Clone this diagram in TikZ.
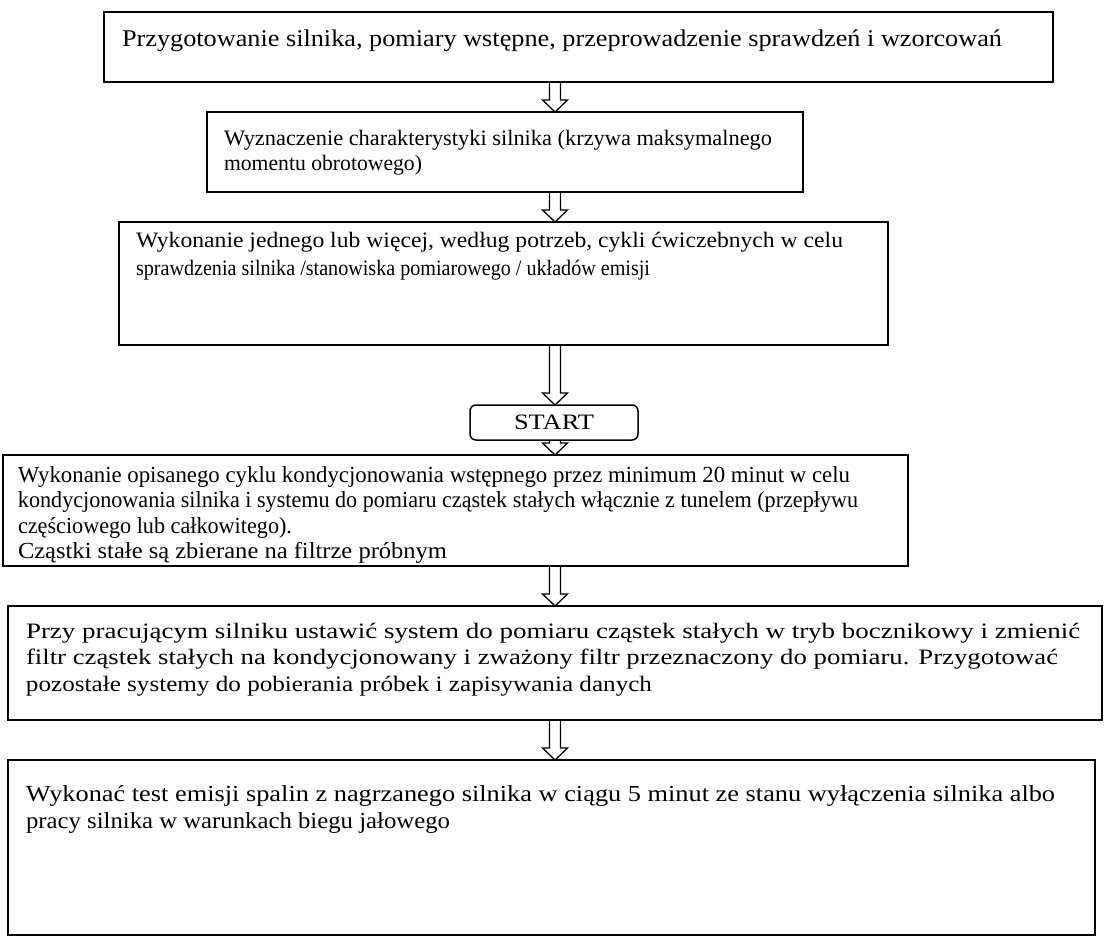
\documentclass[tikz,border=0pt]{standalone}
\usepackage{fontspec}
\setmainfont{Liberation Serif}
\usetikzlibrary{calc}
\newdimen\lnpad
\newdimen\lnskip
% #1 width, #2 height, #3 left pad, #4 first baseline, #5 line spacing, #6 lines
\newcommand\TB[6]{\vbox to #2{\hsize=#1\relax\offinterlineskip\lnpad=#3\relax\lnskip=#5\relax\kern\dimexpr#4-#5\relax #6\vfill}}
\newcommand\Ln[2]{\kern\lnskip\hbox to\hsize{\hskip\lnpad\smash{\resizebox{#1}{\height}{#2}}\hss}}
\tikzset{
  box/.style={draw, line width=1.5pt, inner sep=0pt, outer sep=0pt, anchor=north west, font=\fontsize{22pt}{26pt}\selectfont},
  bigtext/.style={font=\fontsize{24pt}{28pt}\selectfont},
  midtext/.style={font=\fontsize{23pt}{27pt}\selectfont},
  startbox/.style={draw, line width=1.5pt, rounded corners=6pt, inner sep=0pt, outer sep=0pt, minimum width=168pt, minimum height=35pt, font=\fontsize{22pt}{26pt}\selectfont},
  harrow/.style={line width=1.3pt, line join=miter, to path={let \p1=(\tikztostart), \p2=(\tikztotarget) in (\x1-5.5pt,\y1) -- (\x1-5.5pt,\y2+12pt) -- (\x1-12.5pt,\y2+12pt) -- (\x1,\y2) -- (\x1+12.5pt,\y2+12pt) -- (\x1+5.5pt,\y2+12pt) -- (\x1+5.5pt,\y1)}}
}
\begin{document}
\begin{tikzpicture}[x=1pt,y=-1pt]
\fill[white] (0,0) rectangle (1108,941);
\useasboundingbox (0,0) rectangle (1108,941);
\coordinate (ax) at (555,0);

\node[box,bigtext] (b1) at (104,12) {\TB{949pt}{70pt}{18pt}{35pt}{26pt}{%
  \Ln{880pt}{Przygotowanie silnika, pomiary wstępne, przeprowadzenie sprawdzeń i wzorcowań}}};

\node[box] (b2) at (207,112) {\TB{596pt}{80pt}{17pt}{34pt}{25pt}{%
  \Ln{548pt}{Wyznaczenie charakterystyki silnika (krzywa maksymalnego}%
  \Ln{198pt}{momentu obrotowego)}}};

\node[box] (b3) at (119,222) {\TB{769pt}{123pt}{17pt}{25pt}{28pt}{%
  \Ln{707pt}{Wykonanie jednego lub więcej, według potrzeb, cykli ćwiczebnych w celu}%
  \Ln{514pt}{sprawdzenia silnika /stanowiska pomiarowego / układów emisji}}};

\node[startbox] (st) at (554,422.5) {\resizebox{80pt}{\height}{START}};

\node[box,midtext] (b4) at (3,455) {\TB{905pt}{111pt}{15pt}{27pt}{25.5pt}{%
  \Ln{832pt}{Wykonanie opisanego cyklu kondycjonowania wstępnego przez minimum 20 minut w celu}%
  \Ln{840pt}{kondycjonowania silnika i systemu do pomiaru cząstek stałych włącznie z tunelem (przepływu}%
  \Ln{274pt}{częściowego lub całkowitego).}%
  \Ln{429pt}{Cząstki stałe są zbierane na filtrze próbnym}}};

\node[box] (b5) at (8,606) {\TB{1094pt}{114pt}{18pt}{32pt}{26.5pt}{%
  \Ln{1054pt}{Przy pracującym silniku ustawić system do pomiaru cząstek stałych w tryb bocznikowy i zmienić}%
  \Ln{1032pt}{filtr cząstek stałych na kondycjonowany i zważony filtr przeznaczony do pomiaru. Przygotować}%
  \Ln{626pt}{pozostałe systemy do pobierania próbek i zapisywania danych}}};

\node[box,midtext] (b6) at (8,760) {\TB{1087pt}{175pt}{18pt}{41pt}{27pt}{%
  \Ln{1029pt}{Wykonać test emisji spalin z nagrzanego silnika w ciągu 5 minut ze stanu wyłączenia silnika albo}%
  \Ln{424pt}{pracy silnika w warunkach biegu jałowego}}};

\draw[harrow] (b1.south -| ax) to (b2.north -| ax);
\draw[harrow] (b2.south -| ax) to (b3.north -| ax);
\draw[harrow] (b3.south -| ax) to (st.north -| ax);
\draw[harrow] (st.south -| ax) to (b4.north -| ax);
\draw[harrow] (b4.south -| ax) to (b5.north -| ax);
\draw[harrow] (b5.south -| ax) to (b6.north -| ax);
\end{tikzpicture}
\end{document}
